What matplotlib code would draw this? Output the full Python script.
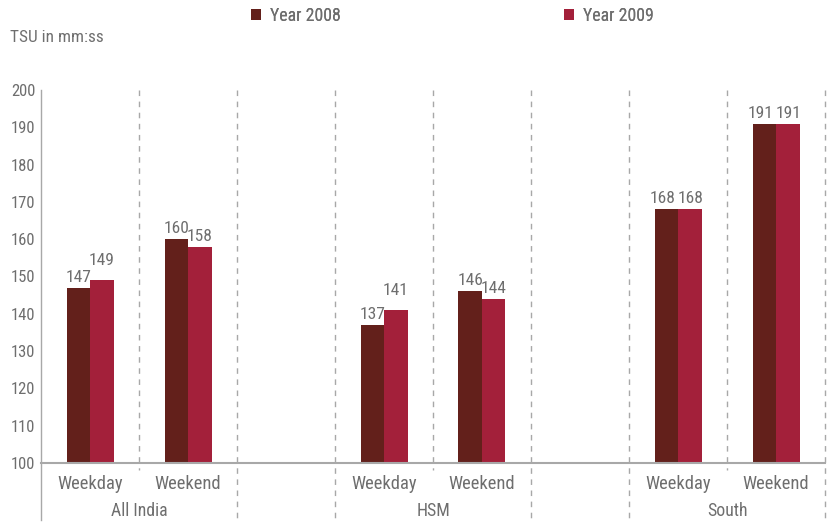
import numpy as np
import matplotlib.pyplot as plt
from matplotlib import font_manager

groups = ["All India", "HSM", "South"]
days = ["Weekday", "Weekend"]
y2008 = [147, 160, 137, 146, 168, 191]
y2009 = [149, 158, 141, 144, 168, 191]
yticks = [100, 110, 120, 130, 140, 150, 160, 170, 180, 190, 200]

c08 = "#63201b"
c09 = "#a3203a"
grey = "#6e6e6e"

names = {f.name for f in font_manager.fontManager.ttflist}
fam = [n for n in ["Roboto Condensed", "Liberation Sans Narrow", "DejaVu Sans"] if n in names]
plt.rcParams["font.family"] = fam

fig = plt.figure(figsize=(8.27, 5.25), dpi=100)
ax = fig.add_axes([41/827, (525-463)/525, 784/827, 373/525])

# slot positions: each group gets 3 slots (weekday, weekend, spacer)
slots = []
for g in range(3):
    slots += [g*3, g*3 + 1]
x = np.array(slots) + 0.5
w = 23.5/98
b08 = ax.bar(x - w/2, np.array(y2008) - 100, w, bottom=100, color=c08, label="Year 2008")
b09 = ax.bar(x + w/2, np.array(y2009) - 100, w, bottom=100, color=c09, label="Year 2009")

ax.set_xlim(0, 8)
ax.set_ylim(100, 200)
for s in ax.spines.values():
    s.set_visible(False)
ax.set_xticks([])
ax.set_yticks(yticks)
ax.tick_params(axis="y", length=0, pad=4, labelsize=12, labelcolor=grey)

# axis lines
ax.plot([0, 8], [100, 100], color="#a8a8a8", lw=1.5, clip_on=False)
ax.plot([0, 0], [1, -0.153], color="#a8a8a8", lw=1, transform=ax.get_xaxis_transform(), clip_on=False)

# dashed separators
for xs in [1, 4, 7]:
    ax.plot([xs, xs], [1, -0.02], color="#a8a8a8", lw=1, ls=(0, (4, 4)),
            transform=ax.get_xaxis_transform(), clip_on=False)
for xs in [2, 3, 5, 6, 8]:
    ax.plot([xs, xs], [1, -0.153], color="#a8a8a8", lw=1, ls=(0, (4, 4)),
            transform=ax.get_xaxis_transform(), clip_on=False)

# value labels
for i, (a, b) in enumerate(zip(y2008, y2009)):
    lift = 2.4 if (i % 2 == 0 and b - a >= 2) else 0
    nudge = 0.035 if a == b else 0
    ax.text(x[i] - w/2 - nudge, a + 0.8, str(a), ha="center", va="bottom", fontsize=12.5, color=grey)
    ax.text(x[i] + w/2 + nudge / 3, b + 0.8 + lift, str(b), ha="center", va="bottom", fontsize=12.5, color=grey)

# category labels
for i in range(6):
    ax.text(x[i], -0.055, days[i % 2], ha="center", va="center", fontsize=13.3, color=grey,
            transform=ax.get_xaxis_transform())
for g in range(3):
    ax.text(g*3 + 1, -0.13, groups[g], ha="center", va="center", fontsize=12.8, color=grey,
            transform=ax.get_xaxis_transform())

fig.text(10/827, 1 - 37/525, "TSU in mm:ss", ha="left", va="center", fontsize=12.4, color=grey)

for h, xl in [(b08, 251/827), (b09, 564/827)]:
    lg = fig.legend(handles=[h], loc="center left", bbox_to_anchor=(xl, 1 - 16/525),
                    frameon=False, fontsize=12.8, labelcolor=grey, borderpad=0, borderaxespad=0,
                    handlelength=0.55, handleheight=0.55, handletextpad=0.5)
    fig.add_artist(lg)

fig.savefig("out.png", dpi=100)
